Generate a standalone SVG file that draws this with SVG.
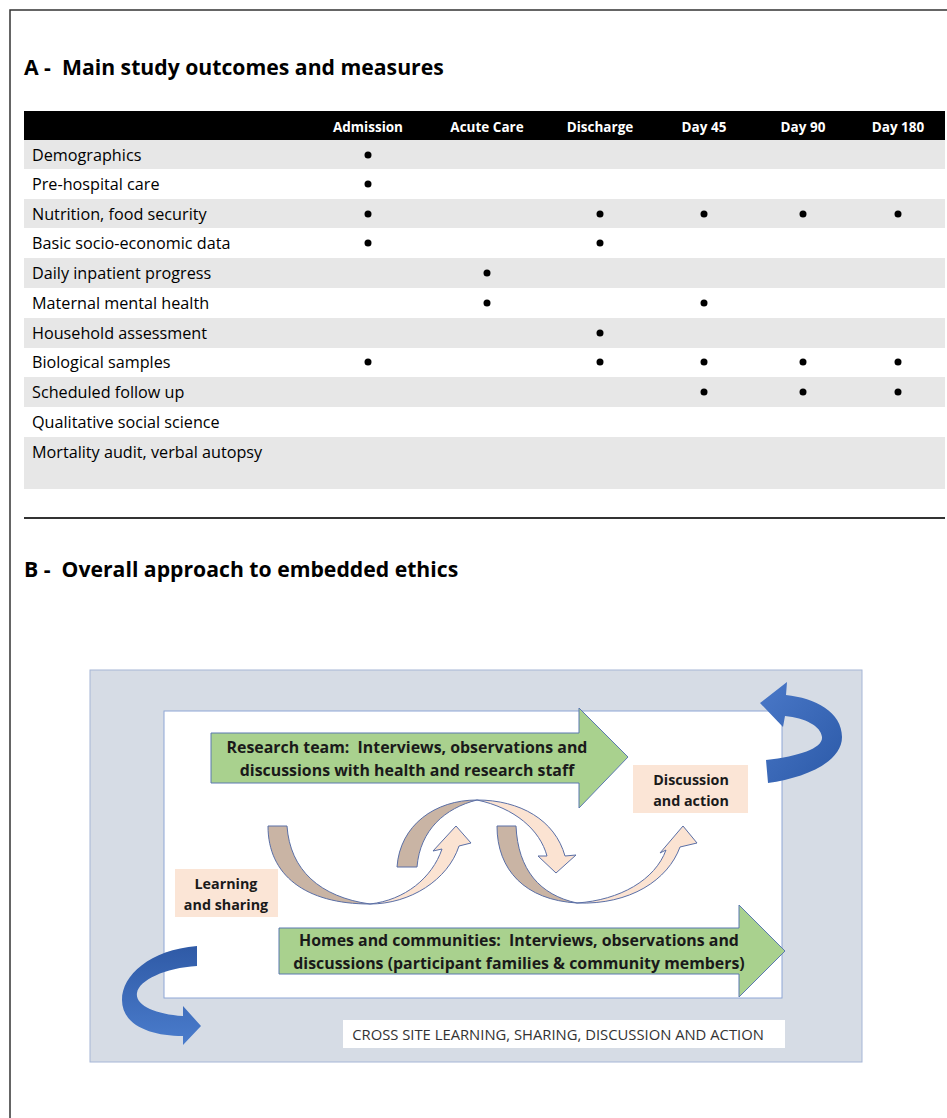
<svg xmlns="http://www.w3.org/2000/svg" width="947" height="1118" viewBox="0 0 947 1118" xml:space="preserve">
<defs>
<style>
.t{font-family:"Open Sans","Liberation Sans",sans-serif;white-space:pre;}
.title{font-size:21.2px;font-weight:bold;fill:#000;}
.hd{font-size:13.5px;font-weight:bold;fill:#fff;text-anchor:middle;}
.rl{font-size:16.2px;fill:#000;}
.g{fill:#e7e7e7;}
.dot{fill:#000;}
.ar{font-size:15.9px;font-weight:bold;fill:#1a1a1a;text-anchor:middle;}
.pb{fill:#fbe5d6;}
.pt{font-size:14.3px;font-weight:bold;fill:#1a1a1a;text-anchor:middle;}
.green{fill:#a9d18e;stroke:#5b79b0;stroke-width:1;}
.dk{fill:#c9b4a4;stroke:#5a6fa6;stroke-width:1;}
.lt{fill:#fbe3d2;stroke:#5a6fa6;stroke-width:1;}
</style>
<linearGradient id="blueTR" x1="0" y1="0" x2="1" y2="1">
<stop offset="0" stop-color="#4a78c8"/>
<stop offset="1" stop-color="#2c5aa8"/>
</linearGradient>
<linearGradient id="blueBL" x1="0" y1="0" x2="0" y2="1">
<stop offset="0" stop-color="#2f5aa6"/>
<stop offset="1" stop-color="#4a7ccc"/>
</linearGradient>
</defs>
<rect width="947" height="1118" fill="#fff"/>
<path d="M10,1118 V10 H947" fill="none" stroke="#333" stroke-width="1.5"/>

<g id="sectionA">
<text class="t title" x="24" y="75">A -  Main study outcomes and measures</text>
<rect x="24" y="111" width="921" height="29" fill="#000"/>
<text class="t hd" x="368" y="132">Admission</text>
<text class="t hd" x="487" y="132">Acute Care</text>
<text class="t hd" x="600" y="132">Discharge</text>
<text class="t hd" x="704" y="132">Day 45</text>
<text class="t hd" x="803" y="132">Day 90</text>
<text class="t hd" x="898" y="132">Day 180</text>
<rect class="g" x="24" y="140" width="921" height="29"/>
<rect class="g" x="24" y="199" width="921" height="29"/>
<rect class="g" x="24" y="258" width="921" height="30"/>
<rect class="g" x="24" y="318" width="921" height="30"/>
<rect class="g" x="24" y="377" width="921" height="30"/>
<rect class="g" x="24" y="437" width="921" height="52"/>
<g id="row1"><text class="t rl" x="32" y="161">Demographics</text><circle class="dot" cx="368" cy="155" r="3.5"/></g>
<g id="row2"><text class="t rl" x="32" y="190">Pre-hospital care</text><circle class="dot" cx="368" cy="184" r="3.5"/></g>
<g id="row3"><text class="t rl" x="32" y="220">Nutrition, food security</text><circle class="dot" cx="368" cy="214" r="3.5"/><circle class="dot" cx="600" cy="214" r="3.5"/><circle class="dot" cx="704" cy="214" r="3.5"/><circle class="dot" cx="803" cy="214" r="3.5"/><circle class="dot" cx="898" cy="214" r="3.5"/></g>
<g id="row4"><text class="t rl" x="32" y="249">Basic socio-economic data</text><circle class="dot" cx="368" cy="243" r="3.5"/><circle class="dot" cx="600" cy="243" r="3.5"/></g>
<g id="row5"><text class="t rl" x="32" y="279">Daily inpatient progress</text><circle class="dot" cx="487" cy="273" r="3.5"/></g>
<g id="row6"><text class="t rl" x="32" y="309">Maternal mental health</text><circle class="dot" cx="487" cy="303" r="3.5"/><circle class="dot" cx="704" cy="303" r="3.5"/></g>
<g id="row7"><text class="t rl" x="32" y="339">Household assessment</text><circle class="dot" cx="600" cy="333" r="3.5"/></g>
<g id="row8"><text class="t rl" x="32" y="368">Biological samples</text><circle class="dot" cx="368" cy="362" r="3.5"/><circle class="dot" cx="600" cy="362" r="3.5"/><circle class="dot" cx="704" cy="362" r="3.5"/><circle class="dot" cx="803" cy="362" r="3.5"/><circle class="dot" cx="898" cy="362" r="3.5"/></g>
<g id="row9"><text class="t rl" x="32" y="398">Scheduled follow up</text><circle class="dot" cx="704" cy="392" r="3.5"/><circle class="dot" cx="803" cy="392" r="3.5"/><circle class="dot" cx="898" cy="392" r="3.5"/></g>
<g id="row10"><text class="t rl" x="32" y="428">Qualitative social science</text></g>
<g id="row11"><text class="t rl" x="32" y="458">Mortality audit, verbal autopsy</text></g>
<line x1="24" y1="518" x2="945" y2="518" stroke="#333" stroke-width="2"/>
</g>

<g id="sectionB">
<text class="t title" x="24" y="577">B -  Overall approach to embedded ethics</text>
<rect x="90" y="670" width="772" height="392" fill="#d6dce5" stroke="#a6b6d6" stroke-width="1"/>
<rect x="164" y="711" width="618" height="287" fill="#fff" stroke="#8ea6d6" stroke-width="1"/>
</g>

<g id="connectors">
<path d="M766,760 C800,756 823,748 822,737 C821,726 805,718 785,716 L783,727 L760,703 L787,682 L786,695 C815,698 842,712 842,737 C842,762 805,778 768,783 Z" fill="url(#blueTR)"/>
<path d="M197,946 C150,950 122,975 122,1000 C122,1025 150,1036 183,1036 L183,1045 L201,1026 L183,1006 L183,1016 C155,1014 135,1005 137,993 C139,980 165,968 197,966 Z" fill="url(#blueBL)"/>
<path class="dk" d="M268,826 L287,826 C290,870 320,897 370,904 C305,904 268,875 268,826 Z"/>
<path class="lt" d="M370,904 C410,904 448,880 459,846 L471,843 L456,826 L433,851 L442,849 C432,878 405,900 370,904 Z"/>
<path class="dk" d="M397,867 L417,867 C420,830 445,808 477,800 C435,800 400,825 397,867 Z"/>
<path class="lt" d="M477,800 C520,800 555,820 565,856 L576,855 L556,873 L538,856 L547,856 C540,830 515,808 477,800 Z"/>
<path class="dk" d="M497,826 L516,826 C518,870 540,895 577,903 C525,900 497,870 497,826 Z"/>
<path class="lt" d="M577,903 C630,905 668,880 680,847 L697,843 L683,826 L660,853 L666,850 C655,880 620,900 577,903 Z"/>
</g>

<g id="node-research">
<path class="green" d="M211,733 H579 V708 L628,757 L579,808 V783 H211 Z"/>
<text class="t ar" x="407" y="753">Research team:  Interviews, observations and</text>
<text class="t ar" x="407" y="776">discussions with health and research staff</text>
</g>
<g id="node-homes">
<path class="green" d="M279,928 H739 V905 L785,951 L739,997 V974 H279 Z"/>
<text class="t ar" x="519" y="946">Homes and communities:  Interviews, observations and</text>
<text class="t ar" x="519" y="969">discussions (participant families &amp; community members)</text>
</g>
<g id="node-discussion">
<rect class="pb" x="633" y="765" width="115" height="48"/>
<text class="t pt" x="691" y="785">Discussion</text>
<text class="t pt" x="691" y="806">and action</text>
</g>
<g id="node-learning">
<rect class="pb" x="175" y="869" width="103" height="48"/>
<text class="t pt" x="226" y="889">Learning</text>
<text class="t pt" x="226" y="910">and sharing</text>
</g>
<g id="node-cross">
<rect x="343" y="1020" width="442" height="28" fill="#fff"/>
<text class="t" x="558" y="1040" font-size="14.8" fill="#333" text-anchor="middle">CROSS SITE LEARNING, SHARING, DISCUSSION AND ACTION</text>
</g>
</svg>
